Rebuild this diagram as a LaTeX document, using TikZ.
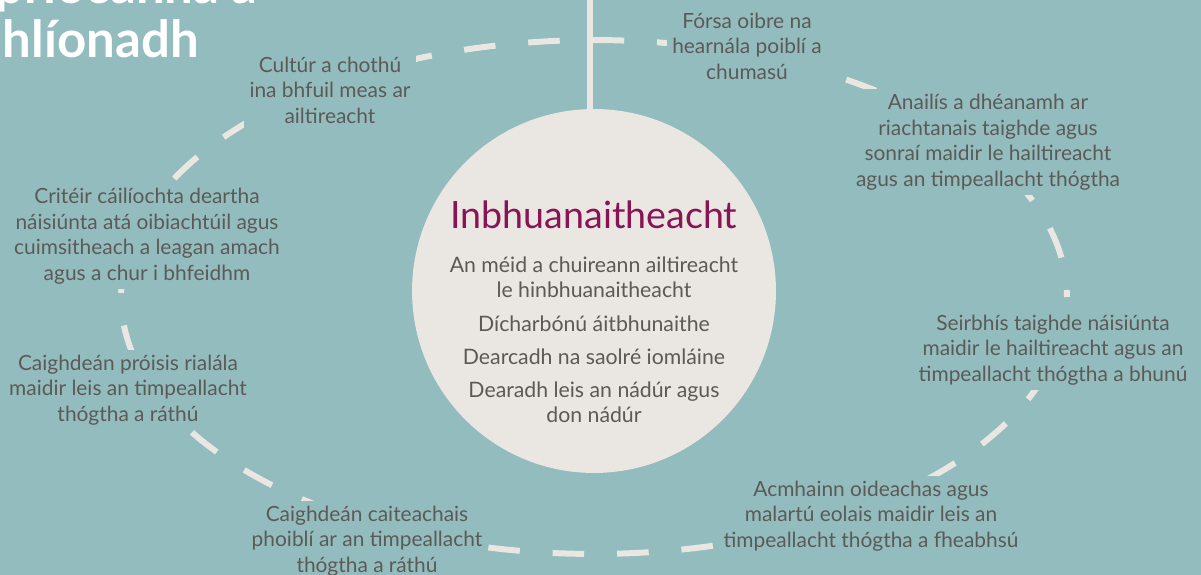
\documentclass[tikz,border=0pt]{standalone}
\usepackage{fontspec}
\setmainfont{Lato}
\usepackage{tikz}
\definecolor{lagoon}{RGB}{147,188,191}
\definecolor{linen}{RGB}{234,231,227}
\definecolor{slate}{RGB}{92,90,86}
\definecolor{plum}{RGB}{136,20,86}
\usetikzlibrary{shapes.geometric, positioning}
\tikzstyle{goal} = [align=center, text=slate, fill=lagoon, inner sep=3pt, font=\fontsize{11.9}{14.5}\selectfont]
\tikzstyle{hub} = [circle, minimum size=7.28cm, inner sep=0pt, fill=linen]
\tikzstyle{item} = [align=center, text=slate, inner sep=0pt, font=\fontsize{12.1}{14.3}\selectfont]
\tikzstyle{banner} = [inner sep=0pt, text=white, font=\fontsize{29}{30}\selectfont\bfseries]
\tikzstyle{ring} = [draw=linen, line width=3.4pt, dash pattern=on 18pt off 18.7pt, dash phase=14pt]
\tikzstyle{spine} = [draw=linen, line width=3.2pt]

\begin{document}
\begin{tikzpicture}[x=0.02cm, y=-0.02cm]
        \fill [lagoon] (0,0) rectangle (1201,575);
        \clip (0,0) rectangle (1201,575);

        \node (title2) [banner, anchor=base east] at (199,57) {chomhlíonadh};
        \node (title1) [banner, anchor=base west, yshift=1.08cm] at (title2.base west) {Mórspriocanna a};

        \draw [ring] (594,297) ellipse [x radius=9.46cm, y radius=5.14cm];

        \node (hub) [hub] at (594,291) {};
        \coordinate (top) at (590,0);
        \draw [spine] (top) -- (top |- hub.north);

        \node (node0) [text=plum, inner sep=0pt, font=\fontsize{21.4}{24}\selectfont] at (594,215) {Inbhuanaitheacht};
        \node (node1) [item] at (594,277) {An méid a chuireann ailtireacht\\le hinbhuanaitheacht};
        \node (node2) [item] at (594,324) {Dícharbónú áitbhunaithe};
        \node (node3) [item] at (594,357) {Dearcadh na saolré iomláine};
        \node (node4) [item] at (594,402) {Dearadh leis an nádúr agus\\don nádúr};

        \node (goal1) [goal] at (330,90) {Cultúr a chothú\\ina bhfuil meas ar\\ailtireacht};
        \node (goal2) [goal] at (747,46) {Fórsa oibre na\\hearnála poiblí a\\chumasú};
        \node (goal3) [goal] at (988,142) {Anailís a dhéanamh ar\\riachtanais taighde agus\\sonraí maidir le hailtireacht\\agus an timpeallacht thógtha};
        \node (goal4) [goal] at (147,236) {Critéir cáilíochta deartha\\náisiúnta atá oibiachtúil agus\\cuimsitheach a leagan amach\\agus a chur i bhfeidhm};
        \node (goal5) [goal] at (1053,350) {Seirbhís taighde náisiúnta\\maidir le hailtireacht agus an\\timpeallacht thógtha a bhunú};
        \node (goal6) [goal] at (128,390) {Caighdeán próisis rialála\\maidir leis an timpeallacht\\thógtha a ráthú};
        \node (goal7) [goal] at (367,541) {Caighdeán caiteachais\\phoiblí ar an timpeallacht\\thógtha a ráthú};
        \node (goal8) [goal] at (871,516) {Acmhainn oideachas agus\\malartú eolais maidir leis an\\timpeallacht thógtha a fheabhsú};
    \end{tikzpicture}
\end{document}
